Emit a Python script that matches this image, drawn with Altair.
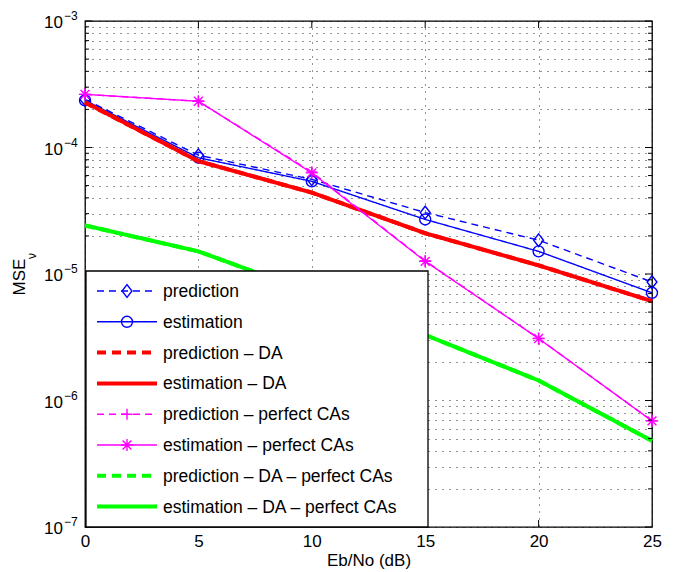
import altair as alt
import pandas as pd

FONT = "Liberation Sans"

# ---------------- data ----------------
eb_no = [0, 5, 10, 15, 20, 25]

series_names = [
    "prediction",
    "estimation",
    "prediction – DA",
    "estimation – DA",
    "prediction – perfect CAs",
    "estimation – perfect CAs",
    "prediction – DA – perfect CAs",
    "estimation – DA – perfect CAs",
]

pred = [2.40e-4, 8.7e-5, 5.6e-5, 3.06e-5, 1.85e-5, 8.65e-6]
est = [2.36e-4, 8.3e-5, 5.4e-5, 2.7e-5, 1.51e-5, 7.1e-6]
pred_da = [2.27e-4, 7.8e-5, 4.4e-5, 2.1e-5, 1.17e-5, 6.1e-6]
est_da = [2.28e-4, 7.8e-5, 4.4e-5, 2.1e-5, 1.17e-5, 6.1e-6]
pred_pc = [2.63e-4, 2.32e-4, 6.4e-5, 1.27e-5, 3.1e-6, 6.9e-7]
est_pc = [2.63e-4, 2.32e-4, 6.3e-5, 1.26e-5, 3.09e-6, 6.9e-7]
pred_da_pc = [2.42e-5, 1.51e-5, 7.1e-6, 3.3e-6, 1.44e-6, 4.8e-7]
est_da_pc = [2.42e-5, 1.51e-5, 7.1e-6, 3.3e-6, 1.44e-6, 4.8e-7]

series_values = [pred, est, pred_da, est_da, pred_pc, est_pc, pred_da_pc, est_da_pc]

colors = ["#0000ff", "#0000ff", "#ff0000", "#ff0000",
          "#ff00ff", "#ff00ff", "#00ff00", "#00ff00"]
dashes = [[7, 5], [1, 0], [9, 6], [1, 0], [7, 5], [1, 0], [9, 6], [1, 0]]
widths = [1.4, 1.4, 4, 4, 1.4, 1.4, 4, 4]

DIAMOND = "M0,-1L0.78,0L0,1L-0.78,0Z"
PLUS = "M-1,0L1,0M0,-1L0,1"
ASTER = "M-1,0L1,0M0,-1L0,1M-0.72,-0.72L0.72,0.72M-0.72,0.72L0.72,-0.72"
markers = [DIAMOND, "circle", None, None, PLUS, ASTER, None, None]
marker_sizes = [160, 121, 0, 0, 121, 150, 0, 0]

y_major = [1e-7, 1e-6, 1e-5, 1e-4, 1e-3]
y_major_exp = ["−7", "−6", "−5", "−4", "−3"]
y_grid = [m * 10.0 ** d for d in range(-7, -3) for m in range(1, 10)] + [1e-3]
y_minor = [v for v in y_grid if v not in y_major]
x_ticks = [0, 5, 10, 15, 20, 25]
x_inner = [5, 10, 15, 20]

# ---------------- layout ----------------
W, H = 567, 506

x_scale = alt.Scale(domain=[0, 25], nice=False, zero=False)
y_scale = alt.Scale(type="log", domain=[1e-7, 1e-3], nice=False)

x_axis = alt.Axis(values=x_ticks, title="Eb/No (dB)", ticks=False, domain=False,
                  grid=True, labelPadding=6, titlePadding=3,
                  labelFontSize=17, titleFontSize=17, labelFont=FONT, titleFont=FONT,
                  labelColor="black", titleColor="black", titleFontWeight="normal",
                  labelFlush=False)
y_axis = alt.Axis(values=y_grid, labels=False, ticks=False, domain=False,
                  grid=True, title=None)

layers = []

# data lines and markers
for name, vals, col, dash, wid, mk, ms in zip(series_names, series_values, colors,
                                               dashes, widths, markers, marker_sizes):
    df = pd.DataFrame({"eb": eb_no, "mse": vals, "series": name})
    base = alt.Chart(df)
    layers.append(
        base.mark_line(color=col, strokeDash=dash, strokeWidth=wid).encode(
            x=alt.X("eb:Q", scale=x_scale, axis=x_axis),
            y=alt.Y("mse:Q", scale=y_scale, axis=y_axis),
        )
    )
    if mk is not None:
        layers.append(
            base.mark_point(shape=mk, size=ms, filled=False, color=col,
                            strokeWidth=1.4, opacity=1).encode(
                x=alt.X("eb:Q", scale=x_scale, axis=x_axis),
                y=alt.Y("mse:Q", scale=y_scale, axis=y_axis),
            )
        )

# inward tick marks (box style)
df_major = pd.DataFrame({"v": y_major})
df_minor = pd.DataFrame({"v": y_minor})
for dfx, ln in ((df_major, 7), (df_minor, 4)):
    layers.append(alt.Chart(dfx).mark_rule(color="black", strokeWidth=1).encode(
        x=alt.value(0), x2=alt.value(ln),
        y=alt.Y("v:Q", scale=y_scale, axis=y_axis)))
    layers.append(alt.Chart(dfx).mark_rule(color="black", strokeWidth=1).encode(
        x=alt.value(W - ln), x2=alt.value(W),
        y=alt.Y("v:Q", scale=y_scale, axis=y_axis)))
df_xt = pd.DataFrame({"eb": x_inner})
layers.append(alt.Chart(df_xt).mark_rule(color="black", strokeWidth=1).encode(
    x=alt.X("eb:Q", scale=x_scale, axis=x_axis), y=alt.value(H), y2=alt.value(H - 7)))
layers.append(alt.Chart(df_xt).mark_rule(color="black", strokeWidth=1).encode(
    x=alt.X("eb:Q", scale=x_scale, axis=x_axis), y=alt.value(0), y2=alt.value(7)))

# legend box
LX0, LX1, LY0, LY1 = 1, 343, H - 256, H
ROW0, ROWSTEP = H - 236, 30.8
layers.append(
    alt.Chart(pd.DataFrame({"a": [0]})).mark_rect(
        fill="white", stroke="black", strokeWidth=1.3).encode(
        x=alt.value(LX0), x2=alt.value(LX1), y=alt.value(LY0), y2=alt.value(LY1))
)
for i, (name, col, dash, wid, mk, ms) in enumerate(zip(series_names, colors, dashes,
                                                      widths, markers, marker_sizes)):
    py = ROW0 + ROWSTEP * i
    seg = pd.DataFrame({"px": [12, 72], "py": [py, py]})
    layers.append(alt.Chart(seg).mark_line(color=col, strokeDash=dash, strokeWidth=wid).encode(
        x=alt.X("px:Q", scale=None, axis=None),
        y=alt.Y("py:Q", scale=None, axis=None)))
    if mk is not None:
        layers.append(alt.Chart(pd.DataFrame({"a": [0]})).mark_point(
            shape=mk, size=ms, filled=False, color=col, strokeWidth=1.4, opacity=1).encode(
            x=alt.value(42), y=alt.value(py)))

leg_txt = pd.DataFrame({"label": series_names,
                        "py": [ROW0 + ROWSTEP * i for i in range(len(series_names))]})
layers.append(alt.Chart(leg_txt).mark_text(
    align="left", baseline="middle", fontSize=17.5, font=FONT, color="black", dy=1).encode(
    x=alt.value(78), y=alt.Y("py:Q", scale=None, axis=None), text="label:N"))

# y tick labels 10^k
df_lab = pd.DataFrame({"v": y_major, "base": ["10"] * len(y_major), "exp": y_major_exp})
layers.append(alt.Chart(df_lab).mark_text(
    align="right", baseline="middle", fontSize=17, font=FONT, color="black", dy=2).encode(
    x=alt.value(-22), y=alt.Y("v:Q", scale=y_scale, axis=y_axis), text="base:N"))
layers.append(alt.Chart(df_lab).mark_text(
    align="left", baseline="middle", fontSize=12, font=FONT, color="black", dy=-5).encode(
    x=alt.value(-21), y=alt.Y("v:Q", scale=y_scale, axis=y_axis), text="exp:N"))

# y title MSE_nu
layers.append(alt.Chart(pd.DataFrame({"t": ["MSE"]})).mark_text(
    angle=270, align="center", baseline="middle", fontSize=17, font=FONT, color="black").encode(
    x=alt.value(-65), y=alt.value(H / 2 + 3), text="t:N"))
layers.append(alt.Chart(pd.DataFrame({"t": ["ν"]})).mark_text(
    angle=270, align="center", baseline="middle", fontSize=12, font=FONT, color="black").encode(
    x=alt.value(-53), y=alt.value(H / 2 - 18), text="t:N"))

chart = alt.layer(*layers).properties(
    width=W, height=H,
    autosize=alt.AutoSizeParams(type="none"),
    padding={"left": 77, "top": 13, "right": 15, "bottom": 46},
).configure_view(
    stroke="black", strokeWidth=1.3
).configure_axis(
    gridColor="black", gridDash=[1, 6], gridOpacity=0.85, gridWidth=1
)

chart.save("out.html", embed_options={"renderer": "svg", "actions": False})
